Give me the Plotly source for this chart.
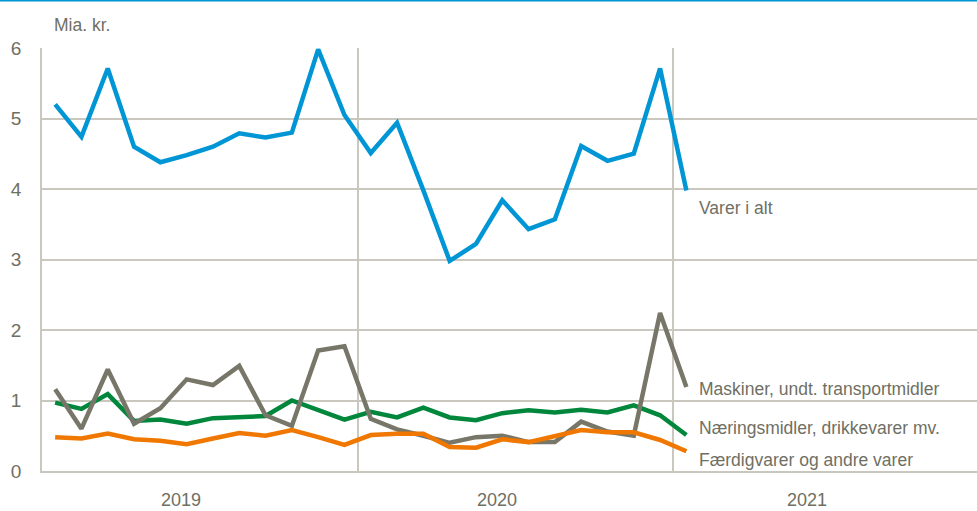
import plotly.graph_objects as go

months = ["2019M01", "2019M02", "2019M03", "2019M04", "2019M05", "2019M06", "2019M07",
          "2019M08", "2019M09", "2019M10", "2019M11", "2019M12",
          "2020M01", "2020M02", "2020M03", "2020M04", "2020M05", "2020M06", "2020M07",
          "2020M08", "2020M09", "2020M10", "2020M11", "2020M12", "2021M01"]

varer_i_alt = [5.20, 4.74, 5.71, 4.60, 4.38, 4.48, 4.60, 4.79, 4.73, 4.80, 5.98, 5.05,
               4.51, 4.94, 3.98, 2.98, 3.22, 3.84, 3.43, 3.57, 4.61, 4.40, 4.50, 5.71, 3.98]
maskiner = [1.16, 0.60, 1.44, 0.67, 0.89, 1.30, 1.22, 1.49, 0.79, 0.64, 1.71, 1.77,
            0.74, 0.59, 0.50, 0.40, 0.48, 0.50, 0.41, 0.41, 0.70, 0.56, 0.50, 2.24, 1.19]
naeringsmidler = [0.97, 0.88, 1.09, 0.71, 0.73, 0.67, 0.75, 0.77, 0.78, 1.00, 0.87, 0.73,
                  0.84, 0.76, 0.90, 0.76, 0.72, 0.82, 0.86, 0.83, 0.87, 0.83, 0.93, 0.79, 0.51]
faerdigvarer = [0.48, 0.46, 0.53, 0.45, 0.43, 0.38, 0.46, 0.54, 0.50, 0.58, 0.48, 0.37,
                0.51, 0.53, 0.53, 0.34, 0.33, 0.45, 0.41, 0.49, 0.58, 0.55, 0.55, 0.44, 0.28]

years = ["2019", "2020", "2021"]
y_ticks = [0, 1, 2, 3, 4, 5, 6]

FONT = "Liberation Sans, Arial, sans-serif"
FS = 17.5
TXT = "#6f6f63"
GRID = "#cac8be"

x = [i + 0.5 for i in range(len(months))]

fig = go.Figure()
series = [
    ("Næringsmidler, drikkevarer mv.", naeringsmidler, "#00873c"),
    ("Maskiner, undt. transportmidler", maskiner, "#777668"),
    ("Færdigvarer og andre varer", faerdigvarer, "#f07800"),
    ("Varer i alt", varer_i_alt, "#0096d6"),
]
for name, vals, col in series:
    fig.add_trace(go.Scatter(x=x, y=vals, mode="lines", name=name,
                             line=dict(color=col, width=4.5), hoverinfo="y"))

# end labels
labels = [("Varer i alt", 3.73), ("Maskiner, undt. transportmidler", 1.16),
          ("Næringsmidler, drikkevarer mv.", 0.61), ("Færdigvarer og andre varer", 0.16)]
for txt, yv in labels:
    fig.add_annotation(x=24.9, y=yv, xref="x", yref="y", text=txt, showarrow=False,
                       xanchor="left", yanchor="middle",
                       font=dict(family=FONT, size=FS, color=TXT))

# year labels
for yr, xv in zip(years, [5.3, 17.3, 29.1]):
    fig.add_annotation(x=xv, y=-0.068, xref="x", yref="paper", text=yr, showarrow=False,
                       xanchor="center", yanchor="middle",
                       font=dict(family=FONT, size=FS + 0.5, color=TXT))

fig.add_annotation(x=0.0107, y=1.054, xref="paper", yref="paper", text="Mia. kr.",
                   showarrow=False, xanchor="left", yanchor="middle",
                   font=dict(family=FONT, size=FS, color=TXT))

# top blue rule
fig.add_shape(type="line", xref="paper", yref="paper", x0=-0.05, x1=1.0,
              y0=(471 - 0.5) / 423, y1=(471 - 0.5) / 423, line=dict(color="#0096d6", width=2))

fig.update_layout(
    width=977, height=511,
    margin=dict(l=42, r=0, t=48, b=40),
    paper_bgcolor="white", plot_bgcolor="white",
    showlegend=False,
    font=dict(family=FONT, size=FS, color=TXT),
)
fig.update_xaxes(range=[0, 35.55], tickvals=[12, 24], showticklabels=False,
                 showgrid=True, gridcolor=GRID, gridwidth=1.5, zeroline=False,
                 showline=True, linecolor=GRID, linewidth=1.5, ticks="")
fig.update_yaxes(range=[0, 6], tickvals=y_ticks, showgrid=True, gridcolor=GRID, gridwidth=1.5,
                 zeroline=False, showline=True, linecolor=GRID, linewidth=1.5, ticks="",
                 ticklabelstandoff=15, tickfont=dict(family=FONT, size=FS + 1.5, color=TXT))

fig.write_html("out.html", config={"displayModeBar": False},
               post_script="document.body.style.margin='0';document.body.style.overflow='hidden';")
